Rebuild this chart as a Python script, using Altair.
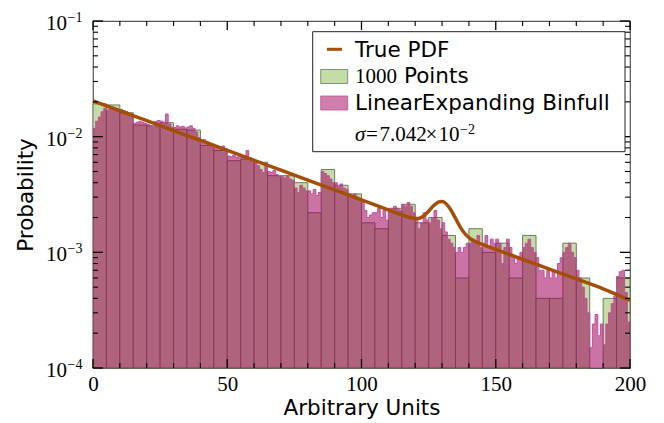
import altair as alt
import pandas as pd

# ---- data ----
green_edges_left = [5 * i for i in range(40)]
green_vals = [0.0192, 0.0188, 0.0161, 0.0126, 0.0124, 0.0132, 0.0116, 0.0114, 0.0084, 0.0076,
              0.0062, 0.0064, 0.0060, 0.0046, 0.0046, 0.0040, 0.0022, 0.0052, 0.0038, 0.0032,
              0.0018, 0.0016, 0.0024, 0.0026, 0.0018, 0.0020, 0.0014, 0.0006, 0.0016, 0.0010,
              0.0012, 0.0006, 0.0014, 0.0004, 0.0004, 0.0012, 0.0006, 0.0, 0.0004, 0.0006]

pink_vals = [
    0.0118, 0.0136, 0.0148, 0.0164, 0.0176, 0.0170, 0.0173, 0.0178, 0.0173, 0.0168,
    0.0172, 0.0168, 0.0165, 0.0158, 0.0155, 0.0130, 0.0133, 0.0135, 0.0133, 0.0130,
    0.0128, 0.0125, 0.0123, 0.0135, 0.0138, 0.0136, 0.0133, 0.0157, 0.0129, 0.0121,
    0.0120, 0.0124, 0.0121, 0.0123, 0.0119, 0.0121, 0.0124, 0.0118, 0.0110, 0.0098,
    0.0088, 0.0094, 0.0091, 0.0087, 0.0086, 0.0080, 0.0082, 0.0079, 0.0083, 0.0079,
    0.0068, 0.0067, 0.0069, 0.0066, 0.0070, 0.0066, 0.0068, 0.0076, 0.0066, 0.0062,
    0.0060, 0.0056, 0.0052, 0.0049, 0.0058, 0.0050, 0.0049, 0.0051, 0.0047, 0.0046,
    0.0045, 0.0044, 0.0046, 0.0043, 0.0042, 0.0036, 0.0033, 0.0038, 0.0036, 0.0034,
    0.0034, 0.0032, 0.0035, 0.0031, 0.0033, 0.0050, 0.0048, 0.0046, 0.0043, 0.0040,
    0.0040, 0.0037, 0.0039, 0.0036, 0.0035, 0.0032, 0.0031, 0.0032, 0.0030, 0.0029,
    0.0027, 0.0023, 0.0020, 0.0021, 0.0022, 0.0022, 0.0024, 0.0020, 0.0023, 0.0019,
    0.0023, 0.0024, 0.0025, 0.0024, 0.0023, 0.0026, 0.0025, 0.0027, 0.0025, 0.0022,
    0.0020, 0.0016, 0.0018, 0.0022, 0.0019, 0.0018, 0.0020, 0.0023, 0.0019, 0.0016,
    0.0018, 0.0015, 0.0013, 0.0012, 0.0011, 0.0010, 0.0011, 0.0010, 0.0011, 0.0012,
    0.0012, 0.0013, 0.0012, 0.0014, 0.0011, 0.0012, 0.0014, 0.0011, 0.0013, 0.0012,
    0.0013, 0.0012, 0.0008, 0.0011, 0.0013, 0.0011, 0.0009, 0.0008, 0.0009, 0.0010,
    0.0011, 0.0012, 0.0013, 0.0011, 0.0010, 0.0009, 0.0007, 0.0007, 0.0006, 0.0007,
    0.0006, 0.0007, 0.0006, 0.0008, 0.0009, 0.0010, 0.0011, 0.0012, 0.0010, 0.0009,
    0.0007, 0.0006, 0.0005, 0.0004, 0.0003, 0.00015, 0.00024, 0.00029, 0.00019, 0.00024,
    0.00016, 0.00024, 0.00030, 0.00036, 0.00042, 0.00062, 0.00068, 0.00070, 0.00045, 0.00025,
]

pdf_x = [0, 10, 20, 30, 40, 50, 60, 70, 80, 90, 100, 110, 115, 118, 121, 123, 125, 127, 129,
         130, 131, 133, 135, 137, 139, 141, 145, 150, 160, 170, 180, 190, 200]
pdf_y = [0.0204, 0.01675, 0.01375, 0.01129, 0.00927, 0.00761, 0.00625, 0.00513, 0.00421,
         0.00346, 0.00284, 0.00233, 0.00211, 0.00200, 0.00196, 0.00205, 0.00227, 0.00255,
         0.00274, 0.00275, 0.00269, 0.00238, 0.00197, 0.00162, 0.00141, 0.00129, 0.00117,
         0.00106, 0.00087, 0.000717, 0.000589, 0.000484, 0.000385]

x_ticks_major = [0, 50, 100, 150, 200]
x_ticks_minor = [10, 20, 30, 40, 60, 70, 80, 90, 110, 120, 130, 140, 160, 170, 180, 190]
y_ticks_major = [0.1, 0.01, 0.001, 0.0001]
y_exp_labels = ["\u22121", "\u22122", "\u22123", "\u22124"]
y_ticks_minor = [m * d for d in [0.0001, 0.001, 0.01] for m in range(2, 10)]

W, H = 537, 347
XMIN, XMAX = 0, 200
YMIN, YMAX = 0.0001, 0.1

xs = alt.Scale(domain=[XMIN, XMAX], nice=False, zero=False)
ys = alt.Scale(type="log", domain=[YMIN, YMAX], nice=False)

XAX = alt.Axis(values=x_ticks_major, format="d", labelFont="Liberation Serif", labelFontSize=21,
               labelColor="black", ticks=False, domain=False, grid=False, labelPadding=5,
               labelFlush=False, title="Arbitrary Units", titleFont="DejaVu Sans",
               titleFontSize=21.5, titleFontWeight="normal", titleColor="black", titlePadding=3)
YAX = alt.Axis(labels=False, ticks=False, domain=False, grid=False, title="Probability",
               titleFont="DejaVu Sans", titleFontSize=21.5, titleFontWeight="normal",
               titleColor="black", titlePadding=56)

GREEN = "#c4dca6"
GREEN_EDGE = "#6c7b5e"
PINK = "#a0005a"
PINK_EDGE = "#c2509a"
BROWN = "#a34f06"

green_df = pd.DataFrame({"x0": green_edges_left,
                         "x1": [e + 5 for e in green_edges_left],
                         "v": green_vals})
green_df = green_df[green_df["v"] > 0]
green_df["base"] = YMIN

pink_df = pd.DataFrame({"x": list(range(200)) + [200],
                        "v": pink_vals + [pink_vals[-1]]})
pink_df["base"] = YMIN

pdf_df = pd.DataFrame({"x": pdf_x, "y": pdf_y})

green = alt.Chart(green_df).mark_rect(fill=GREEN, stroke=GREEN_EDGE, strokeWidth=1).encode(
    x=alt.X("x0:Q", scale=xs, axis=XAX),
    x2="x1:Q",
    y=alt.Y("v:Q", scale=ys, axis=YAX),
    y2="base:Q",
)

pink_area = alt.Chart(pink_df).mark_area(interpolate="step-after", color=PINK, opacity=0.55).encode(
    x=alt.X("x:Q", scale=xs, axis=XAX),
    y=alt.Y("v:Q", scale=ys, axis=YAX),
    y2="base:Q",
)
pink_line = alt.Chart(pink_df).mark_line(interpolate="step-after", color=PINK_EDGE, strokeWidth=1).encode(
    x=alt.X("x:Q", scale=xs, axis=XAX),
    y=alt.Y("v:Q", scale=ys, axis=YAX),
)

pdf_line = alt.Chart(pdf_df).mark_line(interpolate="monotone", color=BROWN, strokeWidth=3.5).encode(
    x=alt.X("x:Q", scale=xs, axis=XAX),
    y=alt.Y("y:Q", scale=ys, axis=YAX),
)

# inward ticks on all four sides
def xticks(vals, length, width):
    d = pd.DataFrame({"t": vals})
    bot = alt.Chart(d).mark_rule(color="black", strokeWidth=width).encode(
        x=alt.X("t:Q", scale=xs, axis=XAX), y=alt.value(H), y2=alt.value(H - length))
    top = alt.Chart(d).mark_rule(color="black", strokeWidth=width).encode(
        x=alt.X("t:Q", scale=xs, axis=XAX), y=alt.value(0), y2=alt.value(length))
    return [bot, top]

def yticks(vals, length, width):
    d = pd.DataFrame({"t": vals})
    left = alt.Chart(d).mark_rule(color="black", strokeWidth=width).encode(
        y=alt.Y("t:Q", scale=ys, axis=YAX), x=alt.value(0), x2=alt.value(length))
    right = alt.Chart(d).mark_rule(color="black", strokeWidth=width).encode(
        y=alt.Y("t:Q", scale=ys, axis=YAX), x=alt.value(W), x2=alt.value(W - length))
    return [left, right]

tick_layers = (xticks(x_ticks_major, 9, 1.3) + xticks(x_ticks_minor, 5, 1.1)
               + yticks(y_ticks_major, 10, 1.3) + yticks(y_ticks_minor, 5, 1.1))

ylab_df = pd.DataFrame({"t": y_ticks_major, "e": y_exp_labels})
ylab_base = alt.Chart(ylab_df).mark_text(
    align="right", baseline="alphabetic", font="Liberation Serif", fontSize=21, dy=9, color="black"
).encode(y=alt.Y("t:Q", scale=ys, axis=YAX), x=alt.value(-26), text=alt.value("10"))
ylab_exp = alt.Chart(ylab_df).mark_text(
    align="left", baseline="alphabetic", font="Liberation Serif", fontSize=14, dy=1, color="black"
).encode(y=alt.Y("t:Q", scale=ys, axis=YAX), x=alt.value(-25.5), text="e:N")

# legend (annotation)
one = pd.DataFrame({"k": [0]})
def txt(s, x, y, font="DejaVu Sans", size=21.5, style="normal"):
    return alt.Chart(one).mark_text(align="left", baseline="alphabetic", font=font,
                                    fontSize=size, fontStyle=style, color="black").encode(
        x=alt.value(x), y=alt.value(y), text=alt.value(s))

leg_box = alt.Chart(one).mark_rect(fill="white", stroke="#222222", strokeWidth=1).encode(
    x=alt.value(219.7), x2=alt.value(532), y=alt.value(10.7), y2=alt.value(130.7))
leg_line = alt.Chart(one).mark_rule(color=BROWN, strokeWidth=3).encode(
    x=alt.value(234), x2=alt.value(249), y=alt.value(28.3))
leg_green = alt.Chart(one).mark_rect(fill=GREEN, stroke=GREEN_EDGE, strokeWidth=0.8).encode(
    x=alt.value(227.7), x2=alt.value(254.7), y=alt.value(48.5), y2=alt.value(62.5))
leg_pink = alt.Chart(one).mark_rect(fill=PINK, fillOpacity=0.5, stroke=PINK_EDGE, strokeWidth=0.8).encode(
    x=alt.value(227.7), x2=alt.value(254.7), y=alt.value(75), y2=alt.value(89))

legend_layers = [
    leg_box, leg_line, leg_green, leg_pink,
    txt("True PDF", 262, 35.7),
    txt("1000", 262, 62.3, font="Liberation Serif", size=21),
    txt("Points", 311, 62.3),
    txt("LinearExpanding Binfull", 262, 89),
    txt("\u03c3", 262, 119.5, font="Liberation Serif", size=21, style="italic"),
    txt("=", 273, 119.5, font="Liberation Serif", size=21),
    txt("7.042", 286.5, 119.5, font="Liberation Serif", size=21),
    txt("\u00d7", 332.5, 119.5, font="Liberation Serif", size=21),
    txt("10", 345.5, 119.5, font="Liberation Serif", size=21),
    txt("\u22122", 367, 112.5, font="Liberation Serif", size=14),
]

chart = alt.layer(
    green, pink_area, pink_line, pdf_line, *tick_layers, ylab_base, ylab_exp, *legend_layers
).properties(
    width=W, height=H,
    padding={"left": 85, "top": 13, "right": 26, "bottom": 55},
    autosize=alt.AutoSizeParams(type="none"),
).configure_view(stroke="#555555", strokeWidth=1.2)

chart.save("out.html", embed_options={"renderer": "svg", "actions": False})
